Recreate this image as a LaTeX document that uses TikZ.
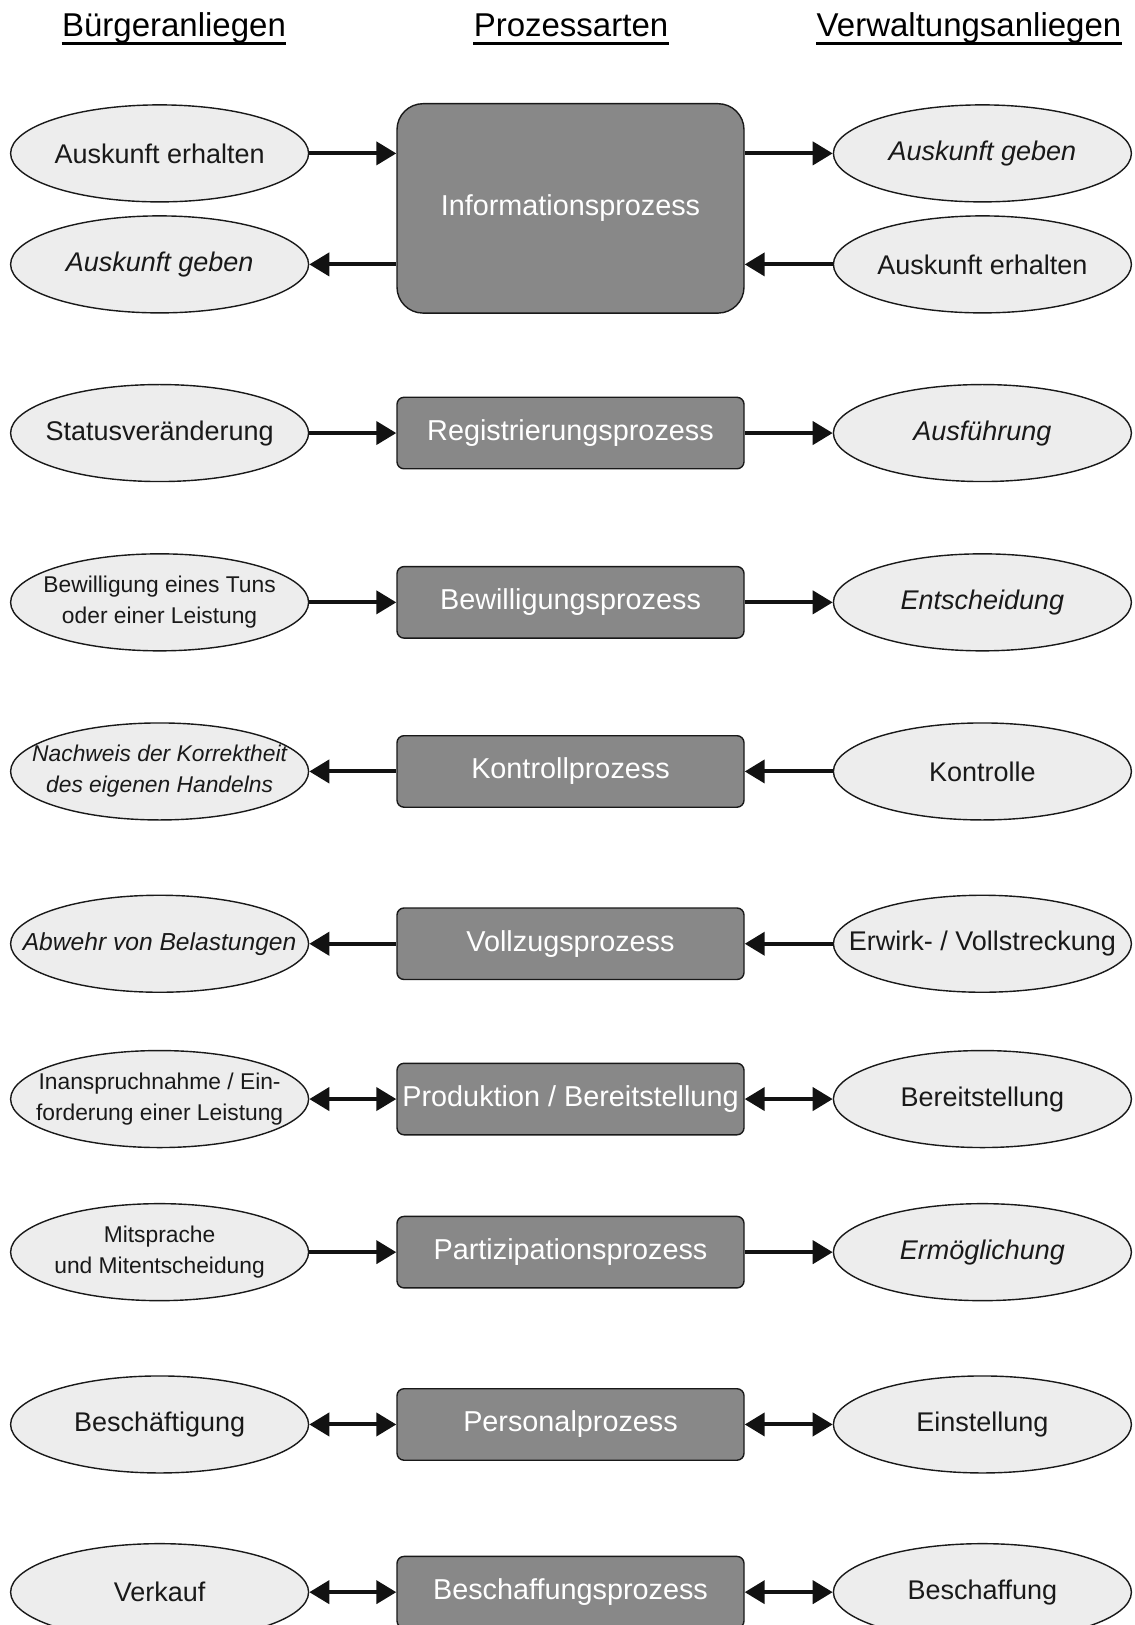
\documentclass[tikz,border=0pt]{standalone}
\usepackage{fontspec}
\setmainfont{Liberation Sans}
\usetikzlibrary{positioning, arrows.meta, shapes.geometric}

\definecolor{procgray}{RGB}{136,136,136}
\definecolor{wantgray}{RGB}{237,237,237}

\begin{document}
\begin{tikzpicture}[
    >={Triangle[length=10pt, width=11.5pt]},
    % Styles
    proc/.style={draw=black!90, rectangle, rounded corners=3.5pt, fill=procgray, text=white, line width=0.7pt, minimum width=173.5pt, minimum height=35.75pt, inner sep=0pt, font=\fontsize{14.4}{17}\selectfont},
    want/.style={draw=black!90, ellipse, fill=wantgray, line width=0.7pt, minimum width=149pt, minimum height=48.5pt, inner xsep=-30pt, inner ysep=0pt, align=center, text=black!90, font=\fontsize{13.5}{16}\selectfont},
    small/.style={font=\fontsize{11.4}{15.5}\selectfont},
    smallit/.style={font=\fontsize{11.4}{15.5}\selectfont\itshape},
    head/.style={inner sep=0pt, anchor=base, font=\fontsize{16.5}{20}\selectfont},
    link/.style={line width=2pt, draw=black!93}
    ]

    \useasboundingbox (0,0) rectangle (567pt,-812.5pt);

    % Column titles
    \node (hbuerger) [head] at (87pt,-18.25pt) {Bürgeranliegen};
    \node (hproz) [head] at (285.5pt,-18.25pt) {Prozessarten};
    \node (hverw) [head] at (484.5pt,-18.25pt) {Verwaltungsanliegen};
    \foreach \h in {hbuerger, hproz, hverw}
        \draw[line width=1.35pt] ([yshift=-3.45pt]\h.base west) -- ([yshift=-3.45pt]\h.base east);

    % Process types (middle column)
    \node (info) [proc, minimum height=104.7pt, rounded corners=13pt] at (285.25pt,-104.2pt) {Informationsprozess};
    \node (reg) [proc, below=41.4pt of info] {Registrierungsprozess};
    \node (bew) [proc, below=48.2pt of reg] {Bewilligungsprozess};
    \node (kon) [proc, below=48.1pt of bew] {Kontrollprozess};
    \node (voll) [proc, below=49.7pt of kon] {Vollzugsprozess};
    \node (prod) [proc, below=41.2pt of voll] {Produktion / Bereitstellung};
    \node (part) [proc, below=40.1pt of prod] {Partizipationsprozess};
    \node (pers) [proc, below=49.7pt of part] {Personalprozess};
    \node (besch) [proc, below=47.4pt of pers] {Beschaffungsprozess};

    % Citizen concerns (left) and administration concerns (right)
    \node (b1) [want, left=43.5pt of info, yshift=27.5pt] {Auskunft erhalten};
    \node (b2) [want, left=43.5pt of info, yshift=-28pt] {\textit{Auskunft geben}};
    \node (v1) [want, right=44pt of info, yshift=27.5pt] {\textit{Auskunft geben}};
    \node (v2) [want, right=44pt of info, yshift=-28pt] {Auskunft erhalten};

    \node (breg) [want, left=43.5pt of reg] {Statusveränderung};
    \node (vreg) [want, right=44pt of reg] {\textit{Ausführung}};

    \node (bbew) [want, small, left=43.5pt of bew] {Bewilligung eines Tuns\\oder einer Leistung};
    \node (vbew) [want, right=44pt of bew] {\textit{Entscheidung}};

    \node (bkon) [want, smallit, left=43.5pt of kon] {Nachweis der Korrektheit\\des eigenen Handelns};
    \node (vkon) [want, right=44pt of kon] {Kontrolle};

    \node (bvoll) [want, left=43.5pt of voll, font=\fontsize{12.3}{15}\selectfont\itshape] {Abwehr von Belastungen};
    \node (vvoll) [want, right=44pt of voll] {Erwirk- / Vollstreckung};

    \node (bprod) [want, small, left=43.5pt of prod] {Inanspruchnahme / Ein-\\forderung einer Leistung};
    \node (vprod) [want, right=44pt of prod] {Bereitstellung};

    \node (bpart) [want, small, left=43.5pt of part] {Mitsprache\\und Mitentscheidung};
    \node (vpart) [want, right=44pt of part] {\textit{Ermöglichung}};

    \node (bpers) [want, left=43.5pt of pers] {Beschäftigung};
    \node (vpers) [want, right=44pt of pers] {Einstellung};

    \node (bbesch) [want, left=43.5pt of besch] {Verkauf};
    \node (vbesch) [want, right=44pt of besch] {Beschaffung};

    % Connections
    \draw[->, link] (b1) -- (b1 -| info.west);
    \draw[<-, link] (b2) -- (b2 -| info.west);
    \draw[->, link] (v1 -| info.east) -- (v1);
    \draw[<-, link] (v2 -| info.east) -- (v2);

    \draw[->, link] (breg) -- (reg);
    \draw[->, link] (reg) -- (vreg);
    \draw[->, link] (bbew) -- (bew);
    \draw[->, link] (bew) -- (vbew);
    \draw[<-, link] (bkon) -- (kon);
    \draw[<-, link] (kon) -- (vkon);
    \draw[<-, link] (bvoll) -- (voll);
    \draw[<-, link] (voll) -- (vvoll);
    \draw[<->, link] (bprod) -- (prod);
    \draw[<->, link] (prod) -- (vprod);
    \draw[->, link] (bpart) -- (part);
    \draw[->, link] (part) -- (vpart);
    \draw[<->, link] (bpers) -- (pers);
    \draw[<->, link] (pers) -- (vpers);
    \draw[<->, link] (bbesch) -- (besch);
    \draw[<->, link] (besch) -- (vbesch);
\end{tikzpicture}
\end{document}
